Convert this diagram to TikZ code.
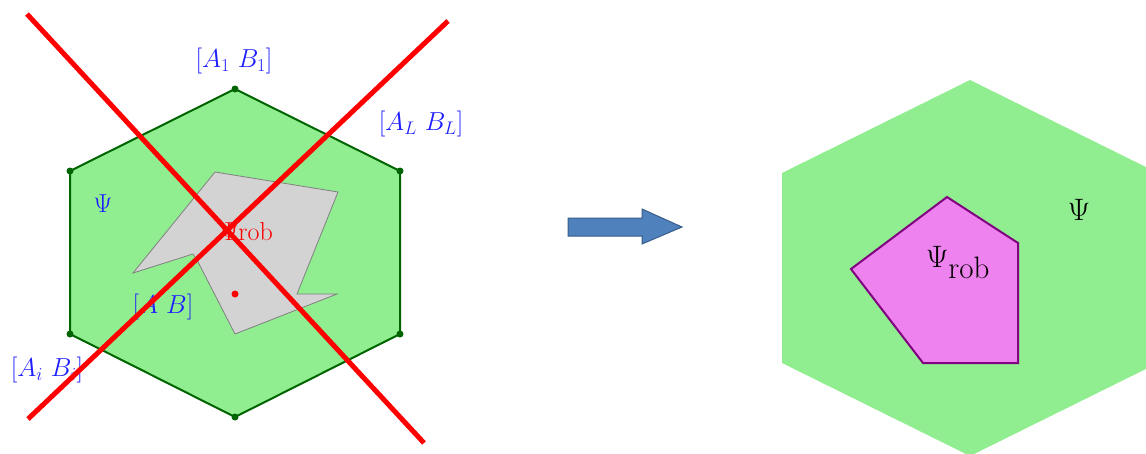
\RequirePackage{fix-cm}
\documentclass[tikz,border=0pt]{standalone}
\definecolor{hexgreen}{RGB}{144,238,144}
\definecolor{hexborder}{RGB}{0,100,0}
\definecolor{robgray}{RGB}{211,211,211}
\definecolor{arrowblue}{RGB}{79,129,189}
\definecolor{arrowborder}{RGB}{56,93,138}
\definecolor{pentfill}{RGB}{238,130,238}
\definecolor{pentborder}{RGB}{128,0,128}
\definecolor{lblue}{RGB}{30,30,255}
\tikzset{
  hexleft/.style={fill=hexgreen, draw=hexborder, line width=2pt, line join=miter},
  vdot/.style={circle, fill=hexborder, inner sep=0pt, minimum size=7pt},
  rdot/.style={circle, fill=red, inner sep=0pt, minimum size=7pt},
  cross/.style={draw=red, line width=5pt},
  bluelbl/.style={text=lblue, inner sep=0pt, font=\fontsize{26}{30}\selectfont},
  blacklbl/.style={text=black, inner sep=0pt, font=\fontsize{31}{36}\selectfont},
  blockarrow/.style={fill=arrowblue, draw=arrowborder, line width=1pt},
}
\begin{document}
\begin{tikzpicture}[x=1pt,y=-1pt]
\useasboundingbox (0,0) rectangle (1146,453);
% left hexagon
\coordinate (h1) at (235,89);
\coordinate (h2) at (400,171);
\coordinate (h3) at (400,334);
\coordinate (h4) at (235,417);
\coordinate (h5) at (70,334);
\coordinate (h6) at (70,171);
\draw[hexleft] (h1) -- (h2) -- (h3) -- (h4) -- (h5) -- (h6) -- cycle;
% gray polygon
\draw[fill=robgray, draw=gray, line width=0.8pt]
  (215,172) -- (338,192) -- (297,294) -- (337,294) -- (235,334) -- (197,260) -- (193,254) -- (133,273) -- cycle;
\foreach \v in {h1,h2,h3,h4,h5,h6} \node[vdot] at (\v) {};
\node[rdot] (rd) at (235,294) {};
% labels left
\node[bluelbl] (l1) at (234,61) {$[A_1\ B_1]$};
\node[bluelbl] (lL) at (421,124) {$[A_L\ B_L]$};
\node[bluelbl] (li) at (47,370) {$[A_i\ B_i]$};
\node[bluelbl] (lab) at (163,307) {$[A\ B]$};
\node[bluelbl] (lpsi) at (103,204) {$\Psi$};
\node[text=red, inner sep=0pt, font=\fontsize{26}{30}\selectfont, anchor=base east] (lrob) at (273,240) {$\Psi$rob};
% red cross
\coordinate (c1a) at (27,14);
\coordinate (c1b) at (424,443);
\coordinate (c2a) at (28,419);
\coordinate (c2b) at (448,21);
\draw[cross] (c1a) -- (c1b);
\draw[cross] (c2a) -- (c2b);
% block arrow
\draw[blockarrow] (568,218) -- (642,218) -- (642,209) -- (682,227) -- (642,244) -- (642,236) -- (568,236) -- cycle;
% right hexagon
\begin{scope}
\clip (0,0) rectangle (1146,453);
\fill[hexgreen] (970,80) -- (1158,173) -- (1158,363) -- (970,456) -- (782,363) -- (782,173) -- cycle;
\end{scope}
\draw[fill=pentfill, draw=pentborder, line width=2pt, line join=miter]
  (947,197) -- (1018,243) -- (1018,363) -- (923,363) -- (851,269) -- cycle;
\node[blacklbl] (rpsi) at (1079,210) {$\Psi$};
\node[blacklbl] (rrob) at (958,262) {$\Psi_{\textstyle\mathrm{rob}}$};
\end{tikzpicture}
\end{document}
